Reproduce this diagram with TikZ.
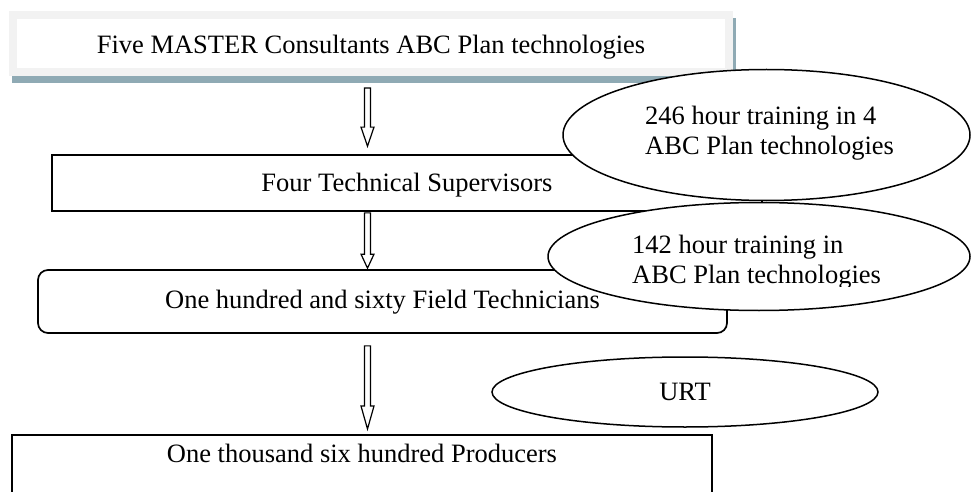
\documentclass[tikz,border=0pt]{standalone}
\usepackage{fontspec}
\setmainfont{Liberation Serif}
\usetikzlibrary{shapes.geometric,calc}
\definecolor{framegrey}{HTML}{F2F2F2}
\definecolor{shadowblue}{HTML}{8FAAB4}
\tikzset{
  headlen/.store in=\headlen, headlen=19pt,
  topbox/.style={draw=framegrey, line width=8pt, fill=white, inner sep=0pt,
    preaction={draw=shadowblue, fill=shadowblue, line width=8pt,
      transform canvas={shift={(2.5pt,-7.5pt)}}}},
  plainbox/.style={draw=black, line width=1.7pt, fill=white, inner sep=0pt},
  oval/.style={ellipse, draw=black, line width=1.5pt, fill=white, inner sep=0pt},
  note/.style={anchor=base west, align=left, inner sep=0pt},
  % hollow block arrow running straight down from start to target
  blockarrow/.style={draw=black, line width=1.2pt, fill=white, line join=miter,
    to path={let \p1=(\tikztostart), \p2=(\tikztotarget) in
      (\x1-3pt,\y1) -- (\x1-3pt,\y2+\headlen) -- (\x1-6.5pt,\y2+\headlen)
      -- (\x1,\y2) -- (\x1+6.5pt,\y2+\headlen) -- (\x1+3pt,\y2+\headlen)
      -- (\x1+3pt,\y1) -- cycle}}
}
\begin{document}
\begin{tikzpicture}[x=1pt, y=-1pt, font=\fontsize{26.5}{30}\selectfont]
\useasboundingbox (0,0) rectangle (972,492);
\clip (0,0) rectangle (972,492);

% levels of the training cascade
\node[topbox, anchor=base, text height=39pt, text depth=18pt, minimum width=716pt]
  (top) at (371,54) {Five MASTER Consultants ABC Plan technologies};
\node[plainbox, anchor=base, text height=36pt, text depth=20pt, minimum width=710pt]
  (b2) at (407,191) {Four Technical Supervisors};
\node[plainbox, rounded corners=10pt, anchor=base, text height=38pt, text depth=25pt,
  minimum width=689pt] (b3) at (382.5,308) {One hundred and sixty Field Technicians};
\node[plainbox, line width=2pt, anchor=base, text height=27pt, text depth=40pt,
  minimum width=700pt] (b4) at (362,462) {One thousand six hundred Producers};

% downward arrows between levels
\coordinate (ax) at (367.5,0);
\draw[blockarrow, headlen=19pt] ([yshift=-12pt]top.south -| ax) to ([yshift=8pt]b2.north -| ax);
\draw[blockarrow, headlen=14pt] ([yshift=-1pt]b2.south -| ax) to ([yshift=1pt]b3.north -| ax);
\draw[blockarrow, headlen=23pt] ([yshift=-12pt]b3.south -| ax) to ([yshift=5pt]b4.north -| ax);

% training callouts
\node[oval, minimum width=407pt, minimum height=131pt] (e1) at (766.5,135) {};
\node[oval, minimum width=422pt, minimum height=108pt] (e2) at (759,256.5) {};
\node[oval, minimum width=386pt, minimum height=70pt] (e3) at (685,392) {URT};

% the base of a two-line note is the baseline of its last line
\node[note] (t1) at (645,155) {246 hour training in 4\\ABC Plan technologies};
\begin{scope}
  \clip (540,190) rectangle (975,286);
  \node[note] (t2) at (632,283) {142 hour training in\\ABC Plan technologies};
\end{scope}
\end{tikzpicture}
\end{document}
